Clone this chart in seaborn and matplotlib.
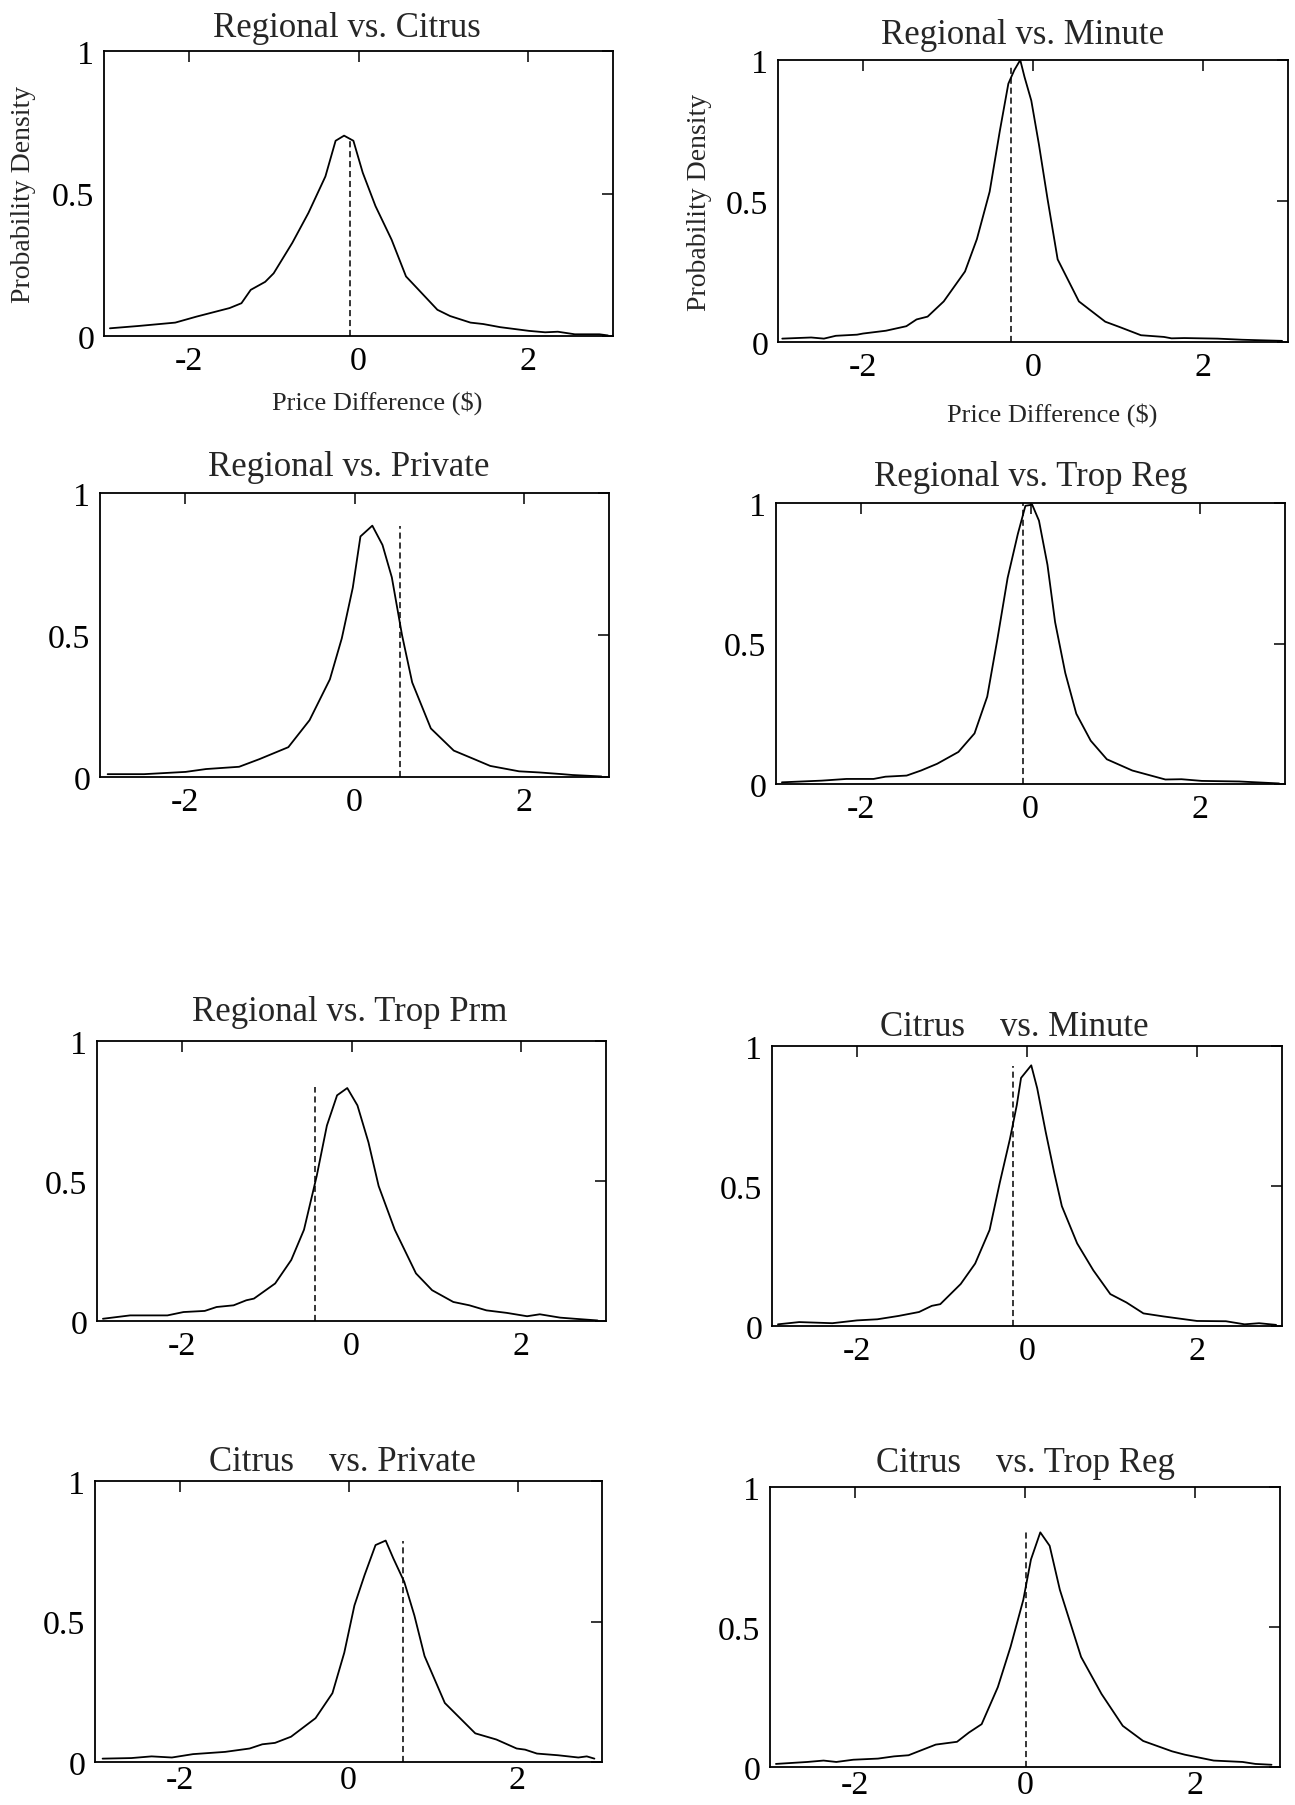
import matplotlib
matplotlib.use("Agg")
import matplotlib.pyplot as plt
import seaborn as sns
import pandas as pd

# ---------------- data ----------------
titles = ["Regional vs. Citrus", "Regional vs. Minute",
          "Regional vs. Private", "Regional vs. Trop Reg",
          "Regional vs. Trop Prm", "Citrus    vs. Minute",
          "Citrus    vs. Private", "Citrus    vs. Trop Reg"]

x_citrus = [-2.93, -2.6, -2.16, -1.91, -1.52, -1.38, -1.27, -1.10, -1.0, -0.78, -0.59, -0.39,
            -0.27, -0.17, -0.06, 0.05, 0.2, 0.39, 0.56, 0.69, 0.93, 1.08, 1.32, 1.47, 1.67,
            2.01, 2.2, 2.35, 2.55, 2.84, 2.94]
y_citrus = [0.027, 0.035, 0.047, 0.068, 0.098, 0.115, 0.162, 0.19, 0.22, 0.327, 0.432, 0.56,
            0.685, 0.703, 0.685, 0.573, 0.456, 0.338, 0.209, 0.168, 0.092, 0.07, 0.047, 0.042,
            0.031, 0.018, 0.013, 0.015, 0.006, 0.006, 0.002]

x_minute = [-2.95, -2.61, -2.46, -2.32, -2.07, -2.0, -1.73, -1.49, -1.37, -1.24, -1.05, -0.8,
            -0.66, -0.51, -0.39, -0.29, -0.22, -0.15, -0.10, -0.02, 0.07, 0.17, 0.29, 0.54,
            0.85, 1.02, 1.27, 1.54, 1.63, 1.78, 2.17, 2.46, 2.93]
y_minute = [0.012, 0.016, 0.012, 0.022, 0.026, 0.03, 0.04, 0.056, 0.08, 0.09, 0.144, 0.25,
            0.365, 0.533, 0.749, 0.916, 0.964, 1.0, 0.94, 0.856, 0.70, 0.509, 0.293, 0.144,
            0.072, 0.053, 0.024, 0.018, 0.013, 0.014, 0.012, 0.008, 0.004]

x_private = [-2.91, -2.48, -1.99, -1.75, -1.36, -1.12, -0.78, -0.53, -0.29, -0.15, -0.02, 0.07,
             0.21, 0.33, 0.44, 0.56, 0.68, 0.9, 1.17, 1.41, 1.6, 1.94, 2.18, 2.45, 2.57, 2.91]
y_private = [0.01, 0.01, 0.018, 0.028, 0.036, 0.063, 0.105, 0.2, 0.344, 0.488, 0.667, 0.847,
             0.885, 0.817, 0.703, 0.5, 0.333, 0.171, 0.093, 0.063, 0.039, 0.02, 0.016, 0.01,
             0.007, 0.002]

x_tropreg = [-2.93, -2.46, -2.17, -1.85, -1.71, -1.46, -1.29, -1.10, -0.85, -0.66, -0.51, -0.39,
             -0.27, -0.15, -0.06, 0.02, 0.1, 0.2, 0.29, 0.41, 0.54, 0.71, 0.9, 1.2, 1.59, 1.78,
             2.02, 2.46, 2.93]
y_tropreg = [0.006, 0.012, 0.018, 0.018, 0.026, 0.03, 0.048, 0.072, 0.114, 0.18, 0.311, 0.516,
             0.733, 0.889, 0.99, 0.994, 0.937, 0.78, 0.576, 0.395, 0.25, 0.154, 0.088, 0.048,
             0.016, 0.017, 0.011, 0.009, 0.002]

x_tropprm = [-2.93, -2.61, -2.17, -1.98, -1.73, -1.59, -1.39, -1.24, -1.15, -0.9, -0.71, -0.56,
             -0.41, -0.29, -0.17, -0.05, 0.07, 0.2, 0.32, 0.51, 0.76, 0.95, 1.2, 1.39, 1.59,
             1.83, 2.07, 2.22, 2.46, 2.63, 2.9]
y_tropprm = [0.008, 0.02, 0.02, 0.032, 0.036, 0.05, 0.056, 0.074, 0.08, 0.134, 0.218, 0.326,
             0.518, 0.698, 0.806, 0.832, 0.77, 0.638, 0.482, 0.326, 0.17, 0.11, 0.068, 0.056,
             0.038, 0.029, 0.017, 0.024, 0.012, 0.008, 0.002]

x_cit_minute = [-2.93, -2.68, -2.29, -2.0, -1.76, -1.51, -1.27, -1.12, -1.02, -0.78, -0.61,
                -0.44, -0.32, -0.2, -0.12, -0.07, 0.05, 0.12, 0.22, 0.32, 0.41, 0.59, 0.78,
                0.98, 1.17, 1.37, 1.61, 2.0, 2.34, 2.56, 2.73, 2.93]
y_cit_minute = [0.006, 0.014, 0.01, 0.02, 0.024, 0.036, 0.05, 0.072, 0.078, 0.15, 0.223, 0.343,
                0.512, 0.669, 0.789, 0.886, 0.931, 0.849, 0.693, 0.548, 0.428, 0.295, 0.199,
                0.114, 0.084, 0.045, 0.034, 0.018, 0.017, 0.006, 0.01, 0.004]

x_cit_private = [-2.91, -2.57, -2.33, -2.09, -1.84, -1.46, -1.17, -1.02, -0.87, -0.68, -0.39,
                 -0.19, -0.05, 0.07, 0.19, 0.32, 0.44, 0.53, 0.66, 0.78, 0.9, 1.14, 1.26, 1.5,
                 1.75, 1.99, 2.09, 2.23, 2.48, 2.72, 2.82, 2.91]
y_cit_private = [0.012, 0.014, 0.02, 0.016, 0.028, 0.036, 0.048, 0.063, 0.068, 0.09, 0.156,
                 0.245, 0.389, 0.557, 0.665, 0.772, 0.788, 0.725, 0.641, 0.521, 0.377, 0.21,
                 0.174, 0.102, 0.08, 0.048, 0.044, 0.03, 0.024, 0.016, 0.02, 0.012]

x_cit_tropreg = [-2.93, -2.56, -2.37, -2.22, -2.02, -1.73, -1.54, -1.37, -1.05, -0.8, -0.66,
                 -0.51, -0.32, -0.17, -0.02, 0.07, 0.18, 0.29, 0.41, 0.66, 0.9, 1.15, 1.39,
                 1.73, 1.88, 2.22, 2.56, 2.71, 2.9]
y_cit_tropreg = [0.011, 0.018, 0.023, 0.018, 0.026, 0.03, 0.038, 0.042, 0.08, 0.09, 0.123,
                 0.153, 0.285, 0.429, 0.597, 0.741, 0.838, 0.79, 0.633, 0.393, 0.261, 0.147,
                 0.093, 0.056, 0.044, 0.023, 0.018, 0.011, 0.008]

dash_x = [-0.10, -0.26, 0.54, -0.09, -0.43, -0.16, 0.64, 0.015]
dash_top = [0.687, 0.975, 0.885, 1.0, 0.836, 0.93, 0.788, 0.838]

x_ticks = [-2, 0, 2]
x_tick_labels = ["-2", "0", "2"]
y_ticks = [0, 0.5, 1]
y_tick_labels = ["0", "0.5", "1"]
ylabel_text = "Probability Density"
xlabel_text = "Price Difference ($)"

# ---------------- layout ----------------
W, H = 1295, 1806
sns.set_style("white")
plt.rcParams["font.family"] = ["Liberation Serif", "DejaVu Serif"]
plt.rcParams["axes.unicode_minus"] = False

fig = plt.figure(figsize=(W / 100, H / 100), dpi=100)
fig.patch.set_facecolor("white")

# pixel boxes: left, top, right, bottom
boxes = [(104, 52, 613, 337), (778, 61, 1288, 343),
         (100, 494, 609, 778), (776, 504, 1285, 785),
         (97, 1042, 606, 1322), (772, 1047, 1282, 1327),
         (95, 1482, 602, 1763), (770, 1488, 1280, 1768)]
title_pos = [(0.478, 1.084), (0.48, 1.092), (0.489, 1.092), (0.501, 1.096),
             (0.496, 1.104), (0.476, 1.071), (0.489, 1.068), (0.501, 1.089)]
x_pads = [7, 7, 7, 7, 7, 7, 2, 1.5]

curves = [(x_citrus, y_citrus), (x_minute, y_minute), (x_private, y_private),
          (x_tropreg, y_tropreg), (x_tropprm, y_tropprm), (x_cit_minute, y_cit_minute),
          (x_cit_private, y_cit_private), (x_cit_tropreg, y_cit_tropreg)]

for i, (box, (xs, ys)) in enumerate(zip(boxes, curves)):
    l, t, r, b = box
    ax = fig.add_axes([l / W, 1 - b / H, (r - l) / W, (b - t) / H])
    df = pd.DataFrame({"x": xs, "y": ys})
    sns.lineplot(data=df, x="x", y="y", ax=ax, color="black", lw=1.3, sort=False)
    ax.vlines(dash_x[i], 0, dash_top[i], colors="black", linestyles=(0, (4, 2.5)), lw=1.1)
    ax.set_xlim(-3, 3)
    ax.set_ylim(0, 1)
    ax.set_xticks(x_ticks)
    ax.set_xticklabels(x_tick_labels)
    ax.set_yticks(y_ticks)
    ax.set_yticklabels(y_tick_labels)
    ax.tick_params(direction="in", top=True, right=True, length=8, width=1.1,
                   labelsize=24.5, colors="black")
    ax.tick_params(axis="y", pad=7)
    ax.tick_params(axis="x", pad=x_pads[i])
    for s in ax.spines.values():
        s.set_visible(True)
        s.set_color("black")
        s.set_linewidth(1.3)
    ax.set_xlabel("")
    ax.set_ylabel("")
    ax.text(title_pos[i][0], title_pos[i][1], titles[i], transform=ax.transAxes,
            ha="center", va="center", fontsize=25)
    if i == 0:
        ax.set_ylabel(ylabel_text, fontsize=20)
        ax.yaxis.set_label_coords(-0.133, 0.5)
        ax.set_xlabel(xlabel_text, fontsize=19)
        ax.xaxis.set_label_coords(0.537, -0.19)
    if i == 1:
        ax.set_ylabel(ylabel_text, fontsize=20)
        ax.yaxis.set_label_coords(-0.13, 0.5)
        ax.set_xlabel(xlabel_text, fontsize=19)
        ax.xaxis.set_label_coords(0.538, -0.213)

fig.savefig("out.png", dpi=100, facecolor="white")
